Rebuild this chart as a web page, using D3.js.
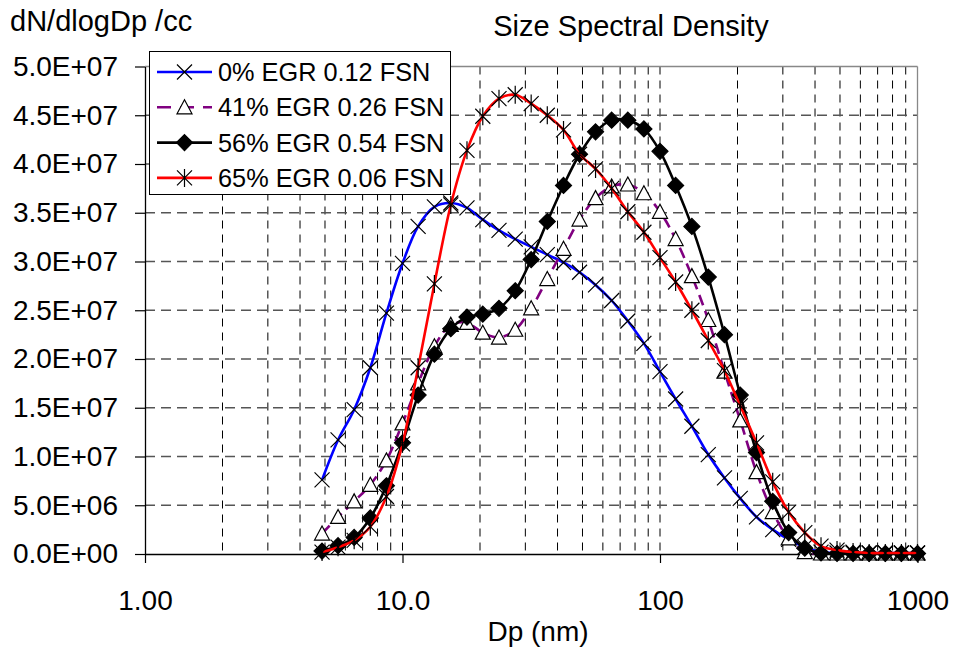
<!DOCTYPE html>
<html><head><meta charset="utf-8">
<script src="https://cdn.jsdelivr.net/npm/d3@7"></script>
<style>
body{margin:0;background:#fff}
text{font-family:Arial,"Liberation Sans",sans-serif;fill:#000}
</style>
</head><body>
<svg id="chart" width="954" height="652"></svg>
<script>
// ---- data ----
const dp = [4.87, 5.62, 6.49, 7.50, 8.66, 10.0, 11.5, 13.3, 15.4, 17.8, 20.5, 23.7, 27.4, 31.6, 36.5, 42.2,
  48.7, 56.2, 64.9, 75.0, 86.6, 100, 115, 133, 154, 178, 205, 237, 274, 316, 365, 422, 487, 562, 649, 750, 866, 1000];

const seriesNames = ["0% EGR 0.12 FSN", "41% EGR 0.26 FSN", "56% EGR 0.54 FSN", "65% EGR 0.06 FSN"];

const egr0 = [7.6e6, 1.17e7, 1.48e7, 1.91e7, 2.47e7, 2.98e7, 3.36e7, 3.56e7, 3.60e7, 3.55e7, 3.43e7, 3.32e7,
  3.23e7, 3.15e7, 3.07e7, 2.99e7, 2.89e7, 2.76e7, 2.60e7, 2.39e7, 2.16e7, 1.87e7, 1.59e7, 1.31e7, 1.02e7,
  7.8e6, 5.7e6, 3.8e6, 2.5e6, 1.5e6, 7e5, 2e5, 1e5, 1e5, 1e5, 1e5, 1e5, 1e5];

const egr41 = [2.1e6, 3.8e6, 5.4e6, 7.1e6, 9.6e6, 1.34e7, 1.75e7, 2.13e7, 2.35e7, 2.37e7, 2.27e7, 2.22e7,
  2.30e7, 2.52e7, 2.82e7, 3.13e7, 3.43e7, 3.65e7, 3.77e7, 3.79e7, 3.70e7, 3.51e7, 3.23e7, 2.85e7, 2.40e7,
  1.87e7, 1.37e7, 8.4e6, 4.3e6, 1.6e6, 2e5, 5e4, 5e4, 5e4, 5e4, 5e4, 5e4, 5e4];

const egr56 = [3e5, 8.5e5, 1.7e6, 3.7e6, 7.0e6, 1.14e7, 1.63e7, 2.05e7, 2.31e7, 2.43e7, 2.46e7, 2.52e7,
  2.70e7, 3.02e7, 3.41e7, 3.78e7, 4.10e7, 4.33e7, 4.45e7, 4.45e7, 4.36e7, 4.13e7, 3.78e7, 3.36e7, 2.84e7,
  2.25e7, 1.63e7, 1.04e7, 5.4e6, 2.2e6, 6e5, 1e5, 5e4, 5e4, 5e4, 5e4, 5e4, 5e4];

const egr65 = [2e5, 7e5, 1.4e6, 2.8e6, 5.9e6, 1.13e7, 1.91e7, 2.77e7, 3.58e7, 4.14e7, 4.49e7, 4.67e7,
  4.71e7, 4.62e7, 4.50e7, 4.35e7, 4.10e7, 3.95e7, 3.75e7, 3.51e7, 3.30e7, 3.04e7, 2.79e7, 2.50e7, 2.19e7,
  1.88e7, 1.52e7, 1.14e7, 7.4e6, 4.3e6, 2.2e6, 8e5, 4e5, 2e5, 1e5, 1e5, 1e5, 1e5];

const yTickValues = [0, 5e6, 1e7, 1.5e7, 2e7, 2.5e7, 3e7, 3.5e7, 4e7, 4.5e7, 5e7];
const yTickLabels = ["0.0E+00", "5.0E+06", "1.0E+07", "1.5E+07", "2.0E+07", "2.5E+07", "3.0E+07",
  "3.5E+07", "4.0E+07", "4.5E+07", "5.0E+07"];
const xTickValues = [1, 10, 100, 1000];
const xTickLabels = ["1.00", "10.0", "100", "1000"];

// ---- layout ----
const L = 145, R = 917.5, T = 66.5, B = 554;
const svg = d3.select("#chart");
const x = d3.scaleLog().domain([1, 1000]).range([L, R]);
const y = d3.scaleLinear().domain([0, 5e7]).range([B, T]);

// grid
const gridX = x.ticks().filter(v => v > 1 && v < 1000);
svg.append("g").selectAll("line").data(gridX).join("line")
  .attr("x1", d => x(d)).attr("x2", d => x(d)).attr("y1", T).attr("y2", B)
  .attr("stroke", "#000").attr("stroke-width", 1).attr("stroke-dasharray", "8,6");
svg.append("g").selectAll("line").data(yTickValues.filter(v => v > 0 && v < 5e7)).join("line")
  .attr("x1", L).attr("x2", R).attr("y1", d => y(d)).attr("y2", d => y(d))
  .attr("stroke", "#555").attr("stroke-width", 1.3).attr("stroke-dasharray", "10,6");

// border top/right
svg.append("line").attr("x1", L).attr("x2", R).attr("y1", T).attr("y2", T).attr("stroke", "#888").attr("stroke-width", 1.3);
svg.append("line").attr("x1", R).attr("x2", R).attr("y1", T).attr("y2", B).attr("stroke", "#888").attr("stroke-width", 1.3);

// axes
const yAxis = d3.axisLeft(y).tickValues(yTickValues).tickFormat((d, i) => yTickLabels[i])
  .tickSize(10).tickSizeOuter(0).tickPadding(17);
const gy = svg.append("g").attr("transform", `translate(${L},0)`).call(yAxis);
gy.selectAll("text").attr("font-size", 28).attr("font-family", "Arial, 'Liberation Sans', sans-serif");

const xAxis = d3.axisBottom(x).tickValues(xTickValues).tickFormat((d, i) => xTickLabels[i])
  .tickSize(9).tickSizeOuter(0).tickPadding(27);
const gx = svg.append("g").attr("transform", `translate(0,${B})`).call(xAxis);
gx.selectAll("text").attr("font-size", 28).attr("font-family", "Arial, 'Liberation Sans', sans-serif");
svg.selectAll(".domain").attr("stroke", "#000").attr("stroke-width", 1.3);
svg.selectAll(".tick line").attr("stroke", "#000").attr("stroke-width", 1.2);

// titles
svg.append("text").attr("x", 631).attr("y", 36).attr("text-anchor", "middle").attr("font-size", 29).text("Size Spectral Density");
svg.append("text").attr("x", 10).attr("y", 31).attr("font-size", 29).text("dN/dlogDp /cc");
svg.append("text").attr("x", 538).attr("y", 641).attr("text-anchor", "middle").attr("font-size", 28).text("Dp (nm)");

// markers
const markerPaths = {
  cross: "M-7.5,-7.5L7.5,7.5M-7.5,7.5L7.5,-7.5",
  tri: "M0,-7.5L7.5,6.5L-7.5,6.5Z",
  diamond: "M0,-8L8,0L0,8L-8,0Z",
  star: "M-7.5,-7.5L7.5,7.5M-7.5,7.5L7.5,-7.5M0,-9L0,9"
};
const series = [
  {name: seriesNames[0], values: egr0, color: "#0000ff", dash: null, marker: "cross", fill: "none"},
  {name: seriesNames[1], values: egr41, color: "#800080", dash: "11,6", marker: "tri", fill: "#fff"},
  {name: seriesNames[2], values: egr56, color: "#000000", dash: null, marker: "diamond", fill: "#000"},
  {name: seriesNames[3], values: egr65, color: "#ff0000", dash: null, marker: "star", fill: "none"}
];

const line = d3.line().x((d, i) => x(dp[i])).y(d => y(d)).curve(d3.curveCatmullRom.alpha(0.5));

series.forEach(s => {
  const g = svg.append("g");
  g.append("path").attr("d", line(s.values)).attr("fill", "none").attr("stroke", s.color)
    .attr("stroke-width", 2.6).attr("stroke-dasharray", s.dash);
  g.selectAll("path.m").data(s.values).join("path").attr("class", "m")
    .attr("transform", (d, i) => `translate(${x(dp[i])},${y(d)})`)
    .attr("d", markerPaths[s.marker]).attr("fill", s.fill).attr("stroke", "#000").attr("stroke-width", 1.2);
});

// legend
const lg = svg.append("g");
lg.append("rect").attr("x", 149.5).attr("y", 51.5).attr("width", 301).attr("height", 143)
  .attr("fill", "#fff").attr("stroke", "#000").attr("stroke-width", 1);
series.forEach((s, i) => {
  const cy = 72 + i * 35.3;
  lg.append("line").attr("x1", 157).attr("x2", 212).attr("y1", cy).attr("y2", cy)
    .attr("stroke", s.color).attr("stroke-width", 2.6).attr("stroke-dasharray", s.dash ? "14,9" : null);
  lg.append("path").attr("transform", `translate(184.5,${cy})`).attr("d", markerPaths[s.marker])
    .attr("fill", s.fill === "none" ? "none" : s.fill).attr("stroke", "#000").attr("stroke-width", 1.2);
  lg.append("text").attr("x", 218).attr("y", cy + 9).attr("font-size", 25.3).text(s.name);
});
</script>
</body></html>
